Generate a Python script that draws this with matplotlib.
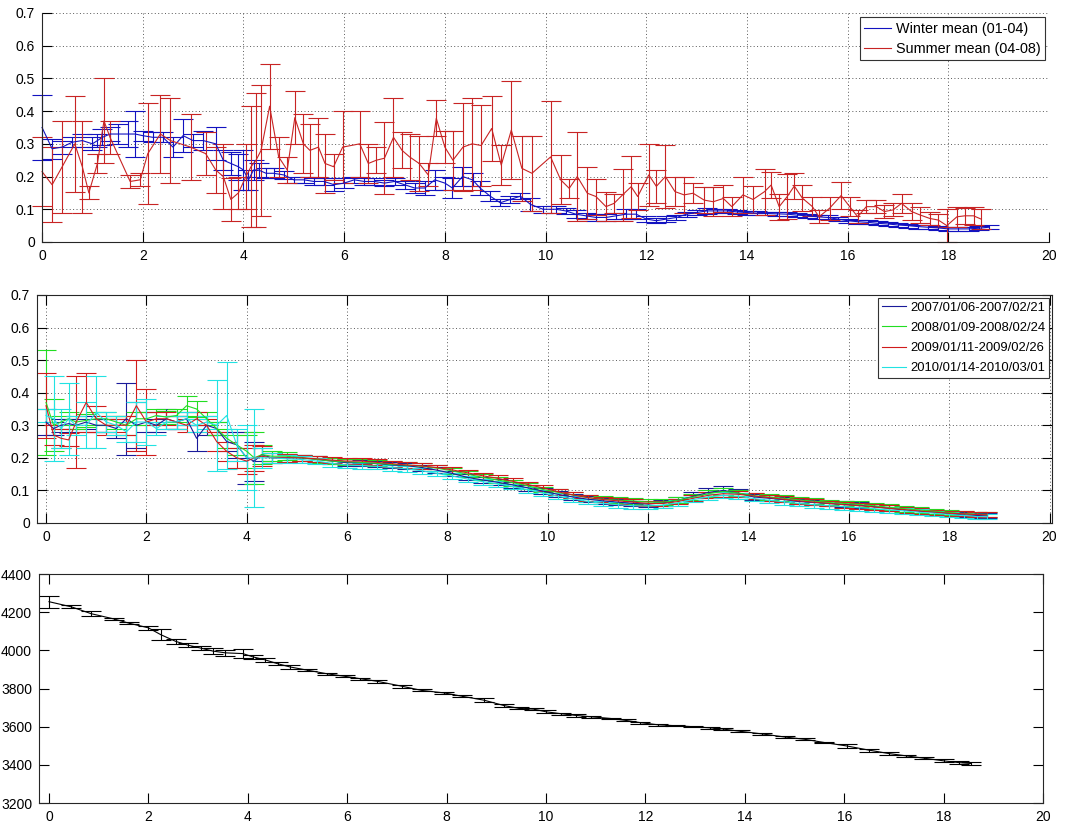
import matplotlib
matplotlib.use('Agg')
import matplotlib.pyplot as plt
from matplotlib.lines import Line2D

plt.rcParams['font.family'] = ['Liberation Sans', 'DejaVu Sans']
plt.rcParams['font.size'] = 10

# ---- top panel: winter / summer means
winter_x = [0.0, 0.2, 0.4, 0.6, 0.8, 1.0, 1.1, 1.2, 1.35, 1.5,
            1.7, 1.85, 2.0, 2.2, 2.4, 2.6, 2.8, 3.0, 3.2, 3.45,
            3.6, 3.75, 3.9, 4.0, 4.1, 4.2, 4.3, 4.45, 4.6, 4.8,
            5.0, 5.2, 5.4, 5.6, 5.8, 6.0, 6.2, 6.4, 6.6, 6.8,
            7.0, 7.2, 7.4, 7.6, 7.8, 8.0, 8.15, 8.35, 8.55, 8.7,
            8.9, 9.1, 9.3, 9.5, 9.7, 9.95, 10.2, 10.4, 10.6, 10.8,
            11.0, 11.2, 11.4, 11.6, 11.8, 12.0, 12.2, 12.4, 12.6, 12.8,
            13.0, 13.2, 13.4, 13.6, 13.8, 14.0, 14.2, 14.4, 14.6, 14.8,
            15.0, 15.2, 15.4, 15.6, 15.8, 16.0, 16.2, 16.4, 16.6, 16.8,
            17.0, 17.2, 17.4, 17.6, 17.8, 18.0, 18.2, 18.4, 18.6, 18.8]
winter_y = [0.35, 0.285, 0.29, 0.305, 0.31, 0.30, 0.31, 0.32, 0.33, 0.33,
            0.33, 0.33, 0.325, 0.32, 0.32, 0.29, 0.325, 0.31, 0.31, 0.30,
            0.25, 0.24, 0.23, 0.22, 0.19, 0.22, 0.22, 0.21, 0.21, 0.205,
            0.19, 0.19, 0.185, 0.185, 0.175, 0.18, 0.19, 0.185, 0.185, 0.18,
            0.185, 0.175, 0.165, 0.165, 0.19, 0.18, 0.165, 0.20, 0.19, 0.165,
            0.14, 0.12, 0.13, 0.14, 0.115, 0.10, 0.10, 0.095, 0.085, 0.08,
            0.075, 0.075, 0.08, 0.085, 0.085, 0.07, 0.065, 0.07, 0.075, 0.085,
            0.09, 0.095, 0.095, 0.095, 0.092, 0.09, 0.088, 0.087, 0.086, 0.085,
            0.082, 0.08, 0.077, 0.075, 0.07, 0.065, 0.062, 0.06, 0.057, 0.055,
            0.052, 0.05, 0.047, 0.045, 0.043, 0.04, 0.04, 0.04, 0.042, 0.045]
winter_err = [0.10, 0.03, 0.02, 0.015, 0.02, 0.02, 0.02, 0.025, 0.02, 0.03,
              0.04, 0.07, 0.015, 0.015, 0.015, 0.03, 0.05, 0.02, 0.03, 0.05,
              0.03, 0.035, 0.04, 0.06, 0.03, 0.03, 0.02, 0.015, 0.015, 0.012,
              0.01, 0.01, 0.01, 0.01, 0.02, 0.015, 0.01, 0.01, 0.01, 0.01,
              0.01, 0.012, 0.015, 0.02, 0.03, 0.02, 0.03, 0.03, 0.02, 0.02,
              0.015, 0.01, 0.01, 0.01, 0.02, 0.01, 0.01, 0.01, 0.012, 0.01,
              0.01, 0.01, 0.01, 0.015, 0.015, 0.01, 0.008, 0.008, 0.008, 0.008,
              0.008, 0.008, 0.006, 0.006, 0.006, 0.006, 0.006, 0.006, 0.006, 0.006,
              0.006, 0.006, 0.006, 0.006, 0.006, 0.006, 0.006, 0.006, 0.006, 0.006,
              0.006, 0.006, 0.006, 0.006, 0.006, 0.006, 0.006, 0.006, 0.006, 0.006]

summer_x = [0.0, 0.2, 0.4, 0.65, 0.8, 0.93, 1.1, 1.23, 1.35, 1.75,
            1.95, 2.1, 2.35, 2.55, 2.95, 3.25, 3.45, 3.6, 3.75, 3.9,
            4.05, 4.15, 4.25, 4.35, 4.52, 4.7, 4.87, 5.02, 5.19, 5.32,
            5.49, 5.62, 5.79, 5.97, 6.31, 6.48, 6.64, 6.8, 6.98, 7.15,
            7.3, 7.49, 7.67, 7.83, 8.0, 8.16, 8.36, 8.54, 8.72, 8.93,
            9.12, 9.32, 9.53, 9.73, 10.1, 10.3, 10.47, 10.63, 10.83, 11.0,
            11.2, 11.36, 11.53, 11.7, 11.83, 12.05, 12.2, 12.38, 12.57, 12.75,
            12.93, 13.15, 13.33, 13.53, 13.7, 13.92, 14.12, 14.35, 14.48, 14.64,
            14.8, 14.94, 15.1, 15.3, 15.43, 15.64, 15.87, 16.04, 16.2, 16.37,
            16.57, 16.73, 16.9, 17.07, 17.27, 17.43, 17.63, 17.8, 17.97, 18.17,
            18.33, 18.5, 18.65]
summer_y = [0.215, 0.175, 0.23, 0.30, 0.23, 0.15, 0.24, 0.37, 0.32, 0.185,
            0.19, 0.27, 0.33, 0.31, 0.29, 0.27, 0.22, 0.20, 0.13, 0.15,
            0.20, 0.23, 0.25, 0.28, 0.415, 0.26, 0.22, 0.38, 0.30, 0.28,
            0.29, 0.24, 0.23, 0.29, 0.30, 0.24, 0.25, 0.256, 0.32, 0.28,
            0.26, 0.24, 0.205, 0.378, 0.29, 0.25, 0.29, 0.30, 0.295, 0.347,
            0.235, 0.342, 0.225, 0.21, 0.26, 0.19, 0.164, 0.20, 0.149, 0.139,
            0.108, 0.118, 0.144, 0.169, 0.139, 0.205, 0.17, 0.20, 0.154, 0.144,
            0.149, 0.128, 0.123, 0.133, 0.108, 0.144, 0.13, 0.154, 0.174, 0.108,
            0.139, 0.171, 0.134, 0.108, 0.077, 0.103, 0.142, 0.108, 0.077, 0.108,
            0.108, 0.093, 0.098, 0.118, 0.093, 0.083, 0.072, 0.067, 0.05, 0.077,
            0.08, 0.08, 0.07]
summer_err = [0.105, 0.115, 0.14, 0.147, 0.14, 0.02, 0.03, 0.13, 0.05, 0.02,
              0.02, 0.155, 0.12, 0.13, 0.10, 0.065, 0.07, 0.10, 0.065, 0.05,
              0.10, 0.185, 0.205, 0.20, 0.13, 0.06, 0.04, 0.08, 0.09, 0.08,
              0.09, 0.09, 0.04, 0.11, 0.10, 0.06, 0.04, 0.11, 0.12, 0.055,
              0.07, 0.085, 0.035, 0.055, 0.05, 0.09, 0.135, 0.14, 0.125, 0.10,
              0.06, 0.15, 0.10, 0.115, 0.17, 0.075, 0.03, 0.135, 0.08, 0.055,
              0.045, 0.03, 0.08, 0.095, 0.04, 0.095, 0.05, 0.095, 0.045, 0.055,
              0.03, 0.04, 0.045, 0.04, 0.03, 0.055, 0.04, 0.07, 0.04, 0.04,
              0.07, 0.04, 0.04, 0.03, 0.02, 0.035, 0.04, 0.03, 0.02, 0.02,
              0.02, 0.02, 0.02, 0.03, 0.025, 0.025, 0.02, 0.02, 0.05, 0.03,
              0.025, 0.028, 0.03]

# ---- middle panel: four winters
mid_x = [0.0, 0.15, 0.3, 0.45, 0.6, 0.8, 1.0, 1.2, 1.4, 1.6,
         1.8, 2.0, 2.2, 2.4, 2.6, 2.8, 3.0, 3.2, 3.4, 3.6,
         3.8, 4.0, 4.15, 4.3, 4.5, 4.8, 5.1, 5.4, 5.7, 6.0,
         6.3, 6.6, 6.9, 7.2, 7.5, 7.8, 8.1, 8.4, 8.7, 9.0,
         9.3, 9.6, 9.9, 10.2, 10.5, 10.8, 11.1, 11.4, 11.7, 12.0,
         12.3, 12.6, 12.9, 13.2, 13.5, 13.8, 14.1, 14.4, 14.7, 15.0,
         15.3, 15.6, 15.9, 16.2, 16.5, 16.8, 17.1, 17.4, 17.7, 18.0,
         18.3, 18.55, 18.75]
y2007 = [0.31, 0.29, 0.30, 0.305, 0.30, 0.31, 0.30, 0.30, 0.29, 0.32,
         0.30, 0.31, 0.30, 0.32, 0.31, 0.32, 0.26, 0.30, 0.29, 0.25,
         0.24, 0.20, 0.19, 0.21, 0.20, 0.20, 0.20, 0.195, 0.19, 0.185,
         0.185, 0.182, 0.178, 0.176, 0.17, 0.162, 0.152, 0.14, 0.132, 0.125,
         0.117, 0.108, 0.098, 0.088, 0.08, 0.073, 0.068, 0.064, 0.06, 0.058,
         0.062, 0.07, 0.082, 0.094, 0.10, 0.092, 0.08, 0.076, 0.072, 0.066,
         0.063, 0.06, 0.057, 0.055, 0.05, 0.045, 0.04, 0.036, 0.033, 0.028,
         0.025, 0.023, 0.022]
e2007 = [0.04, 0.02, 0.02, 0.015, 0.02, 0.02, 0.02, 0.02, 0.03, 0.11,
         0.07, 0.03, 0.02, 0.03, 0.02, 0.02, 0.04, 0.03, 0.02, 0.03,
         0.04, 0.08, 0.06, 0.02, 0.015, 0.012, 0.01, 0.01, 0.01, 0.01,
         0.009, 0.009, 0.009, 0.009, 0.009, 0.009, 0.009, 0.009, 0.009, 0.009,
         0.009, 0.009, 0.009, 0.009, 0.009, 0.009, 0.009, 0.009, 0.009, 0.009,
         0.009, 0.01, 0.012, 0.014, 0.014, 0.012, 0.01, 0.009, 0.009, 0.009,
         0.009, 0.009, 0.009, 0.009, 0.009, 0.009, 0.009, 0.009, 0.008, 0.008,
         0.008, 0.008, 0.008]
y2008 = [0.37, 0.30, 0.31, 0.32, 0.31, 0.315, 0.32, 0.32, 0.31, 0.30,
         0.32, 0.32, 0.33, 0.325, 0.33, 0.36, 0.35, 0.32, 0.29, 0.26,
         0.24, 0.22, 0.20, 0.21, 0.205, 0.205, 0.20, 0.195, 0.19, 0.188,
         0.186, 0.183, 0.18, 0.178, 0.174, 0.168, 0.16, 0.15, 0.14, 0.132,
         0.124, 0.114, 0.103, 0.094, 0.086, 0.078, 0.073, 0.07, 0.068, 0.064,
         0.064, 0.07, 0.08, 0.09, 0.097, 0.092, 0.084, 0.08, 0.076, 0.071,
         0.067, 0.063, 0.06, 0.057, 0.053, 0.048, 0.044, 0.04, 0.036, 0.032,
         0.029, 0.027, 0.026]
e2008 = [0.16, 0.08, 0.02, 0.02, 0.02, 0.02, 0.02, 0.02, 0.02, 0.03,
         0.02, 0.02, 0.02, 0.02, 0.02, 0.03, 0.025, 0.02, 0.02, 0.03,
         0.03, 0.05, 0.08, 0.03, 0.015, 0.012, 0.01, 0.01, 0.01, 0.01,
         0.009, 0.009, 0.009, 0.009, 0.009, 0.009, 0.009, 0.009, 0.009, 0.009,
         0.009, 0.009, 0.009, 0.009, 0.009, 0.009, 0.009, 0.009, 0.009, 0.009,
         0.009, 0.009, 0.01, 0.01, 0.01, 0.01, 0.009, 0.009, 0.009, 0.009,
         0.009, 0.009, 0.009, 0.009, 0.009, 0.009, 0.009, 0.009, 0.008, 0.008,
         0.008, 0.008, 0.008]
y2009 = [0.36, 0.27, 0.26, 0.255, 0.31, 0.37, 0.32, 0.30, 0.30, 0.30,
         0.36, 0.31, 0.32, 0.32, 0.31, 0.30, 0.32, 0.30, 0.25, 0.22,
         0.20, 0.19, 0.20, 0.205, 0.20, 0.20, 0.20, 0.197, 0.193, 0.19,
         0.19, 0.186, 0.182, 0.178, 0.175, 0.17, 0.163, 0.154, 0.145, 0.137,
         0.128, 0.118, 0.108, 0.096, 0.086, 0.078, 0.072, 0.068, 0.064, 0.06,
         0.06, 0.066, 0.076, 0.085, 0.09, 0.088, 0.083, 0.078, 0.073, 0.068,
         0.064, 0.06, 0.056, 0.053, 0.049, 0.045, 0.041, 0.037, 0.033, 0.03,
         0.028, 0.026, 0.025]
e2009 = [0.10, 0.03, 0.03, 0.02, 0.14, 0.09, 0.04, 0.03, 0.02, 0.03,
         0.14, 0.10, 0.02, 0.02, 0.02, 0.02, 0.02, 0.02, 0.03, 0.03,
         0.03, 0.04, 0.04, 0.03, 0.015, 0.012, 0.01, 0.01, 0.01, 0.01,
         0.009, 0.009, 0.009, 0.009, 0.009, 0.009, 0.009, 0.009, 0.009, 0.009,
         0.009, 0.009, 0.009, 0.009, 0.009, 0.009, 0.009, 0.009, 0.009, 0.009,
         0.009, 0.009, 0.009, 0.009, 0.009, 0.009, 0.009, 0.009, 0.009, 0.009,
         0.009, 0.009, 0.009, 0.009, 0.009, 0.009, 0.009, 0.009, 0.008, 0.008,
         0.008, 0.008, 0.008]
y2010 = [0.33, 0.32, 0.29, 0.32, 0.30, 0.30, 0.34, 0.31, 0.30, 0.28,
         0.31, 0.31, 0.29, 0.31, 0.31, 0.32, 0.30, 0.31, 0.30, 0.33,
         0.24, 0.20, 0.20, 0.20, 0.20, 0.197, 0.195, 0.19, 0.183, 0.178,
         0.176, 0.174, 0.17, 0.166, 0.16, 0.152, 0.144, 0.135, 0.127, 0.12,
         0.112, 0.102, 0.092, 0.082, 0.074, 0.066, 0.06, 0.056, 0.053, 0.052,
         0.055, 0.062, 0.072, 0.08, 0.085, 0.082, 0.075, 0.07, 0.065, 0.06,
         0.056, 0.053, 0.05, 0.047, 0.044, 0.04, 0.037, 0.033, 0.03, 0.026,
         0.023, 0.02, 0.019]
e2010 = [0.02, 0.13, 0.06, 0.11, 0.03, 0.07, 0.11, 0.03, 0.03, 0.03,
         0.06, 0.07, 0.02, 0.02, 0.02, 0.02, 0.02, 0.02, 0.14, 0.165,
         0.05, 0.10, 0.15, 0.03, 0.015, 0.012, 0.01, 0.01, 0.01, 0.01,
         0.009, 0.009, 0.009, 0.009, 0.009, 0.009, 0.009, 0.009, 0.009, 0.009,
         0.009, 0.009, 0.009, 0.009, 0.009, 0.009, 0.009, 0.009, 0.009, 0.009,
         0.009, 0.009, 0.009, 0.009, 0.009, 0.009, 0.009, 0.009, 0.009, 0.009,
         0.009, 0.009, 0.009, 0.009, 0.009, 0.009, 0.009, 0.009, 0.008, 0.008,
         0.008, 0.008, 0.008]
mid_labels = ['2007/01/06-2007/02/21', '2008/01/09-2008/02/24',
              '2009/01/11-2009/02/26', '2010/01/14-2010/03/01']

# ---- bottom panel
bot_x = [0.0, 0.45, 0.85, 1.3, 1.6, 2.0, 2.25, 2.55, 2.8, 3.05,
         3.3, 3.55, 3.9, 4.1, 4.35, 4.6, 4.85, 5.2, 5.6, 5.95,
         6.25, 6.6, 7.1, 7.5, 7.95, 8.3, 8.75, 9.15, 9.45, 9.75,
         10.0, 10.3, 10.6, 10.9, 11.3, 11.6, 11.9, 12.25, 12.6, 12.95,
         13.3, 13.55, 13.9, 14.35, 14.8, 15.2, 15.6, 16.05, 16.5, 16.9,
         17.25, 17.6, 18.0, 18.3, 18.55]
bot_y = [4255, 4228, 4192, 4165, 4143, 4118, 4082, 4047, 4027, 4012,
         3996, 3987, 3983, 3966, 3950, 3930, 3913, 3896, 3877, 3864,
         3852, 3838, 3812, 3790, 3777, 3760, 3739, 3711, 3696, 3692,
         3678, 3668, 3659, 3652, 3643, 3633, 3621, 3610, 3605, 3600,
         3594, 3588, 3576, 3562, 3546, 3534, 3517, 3499, 3477, 3459,
         3447, 3435, 3421, 3412, 3407]
bot_err = [32, 8, 12, 6, 7, 12, 28, 15, 10, 12,
           15, 15, 23, 12, 10, 8, 10, 5, 5, 6,
           5, 8, 8, 5, 6, 5, 10, 8, 5, 5,
           8, 5, 6, 6, 5, 5, 6, 5, 4, 4,
           4, 6, 5, 6, 4, 5, 5, 10, 8, 6,
           6, 6, 8, 8, 8]

x_ticks = [0, 2, 4, 6, 8, 10, 12, 14, 16, 18, 20]
frac_ticks = [0, 0.1, 0.2, 0.3, 0.4, 0.5, 0.6, 0.7]
frac_labels = ['0', '0.1', '0.2', '0.3', '0.4', '0.5', '0.6', '0.7']
bot_ticks = [3200, 3400, 3600, 3800, 4000, 4200, 4400]

lw = 0.8
cap = 7


def eb(ax, x, y, e, c):
    return ax.errorbar(x, y, yerr=e, color=c, lw=lw, elinewidth=lw,
                       capsize=cap, capthick=lw)


def style(ax, box=True, grid=True):
    ax.set_xticks(x_ticks)
    ax.tick_params(direction='in', length=7, width=0.8, labelsize=10,
                   top=box, right=box, pad=5)
    for s in ax.spines.values():
        s.set_linewidth(0.8)
        s.set_color('0.15')
    if not box:
        ax.spines['top'].set_visible(False)
        ax.spines['right'].set_visible(False)
    if grid:
        ax.grid(True, linestyle=(0, (1, 2.5)), color='0.35', lw=0.7)


def legend(ax, handles, labels, fs, ls, pad):
    leg = ax.legend(handles, labels, loc='upper right', fancybox=False,
                    edgecolor='0.2', framealpha=1, fontsize=fs,
                    handlelength=1.9, handletextpad=0.3, borderpad=0.3,
                    borderaxespad=pad, labelspacing=ls)
    leg.get_frame().set_linewidth(0.8)
    return leg


fig = plt.figure(figsize=(10.67, 8.27), dpi=100)

ax1 = fig.add_axes([0.0394, 0.7074, 0.9438, 0.2769])
c_w, c_s = '#1212c0', '#c82424'
eb(ax1, winter_x, winter_y, winter_err, c_w)
eb(ax1, summer_x, summer_y, summer_err, c_s)
for a in ax1.get_children():
    if isinstance(a, (Line2D, matplotlib.collections.LineCollection)):
        a.set_clip_on(False)
ax1.set_xlim(0, 20)
ax1.set_ylim(0, 0.7)
ax1.set_yticks(frac_ticks)
ax1.set_yticklabels(frac_labels)
style(ax1, box=False)
h = [Line2D([], [], color=c_w, lw=lw), Line2D([], [], color=c_s, lw=lw)]
legend(ax1, h, ['Winter mean (01-04)', 'Summer mean (04-08)'], 10.4, 0.42, 0.3)

ax2 = fig.add_axes([0.0347, 0.3676, 0.9513, 0.2757])
mid_y = [y2007, y2008, y2009, y2010]
mid_e = [e2007, e2008, e2009, e2010]
mid_c = ['#1a1a9a', '#22dd22', '#d01c1c', '#22e2e2']
for yy, ee, cc in zip(mid_y, mid_e, mid_c):
    eb(ax2, mid_x, yy, ee, cc)
ax2.set_xlim(-0.18, 20.05)
ax2.set_ylim(0, 0.7)
ax2.set_yticks(frac_ticks)
ax2.set_yticklabels(frac_labels)
style(ax2)
h = [Line2D([], [], color=cc, lw=lw) for cc in mid_c]
legend(ax2, h, mid_labels, 9.4, 0.62, 0.2)

ax3 = fig.add_axes([0.0366, 0.029, 0.941, 0.2769])
eb(ax3, bot_x, bot_y, bot_err, 'k')
ax3.set_xlim(-0.2, 20)
ax3.set_ylim(3200, 4400)
ax3.set_yticks(bot_ticks)
style(ax3, grid=False)

fig.savefig('out.png', dpi=100)
